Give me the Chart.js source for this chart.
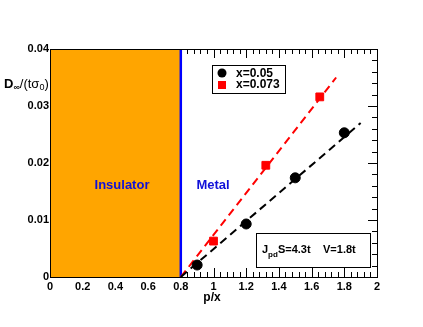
<!DOCTYPE html>
<html>
<head>
<meta charset="utf-8">
<script src="https://cdn.jsdelivr.net/npm/chart.js@4"></script>
<style>
  html, body { margin: 0; padding: 0; background: #fff; }
  #wrap { width: 423px; height: 327px; }
</style>
</head>
<body>
<div id="wrap"><canvas id="c" width="423" height="327"></canvas></div>
<script>
// data
const xBlack = [0.9, 1.2, 1.5, 1.8];
const yBlack = [0.0021, 0.0093, 0.0174, 0.0253];
const xRed = [1.0, 1.32, 1.65];
const yRed = [0.0063, 0.0196, 0.0316];
// dashed fit lines (start / end)
const fitBlackX = [0.8, 1.9];
const fitBlackY = [0, 0.027];
const fitRedX = [0.8, 1.75];
const fitRedY = [0, 0.035];
// insulator / metal boundary
const boundary = 0.8;
const xTicks = [0, 0.2, 0.4, 0.6, 0.8, 1, 1.2, 1.4, 1.6, 1.8, 2];
const yTicks = [0, 0.01, 0.02, 0.03, 0.04];
const legendLabels = ['x=0.05', 'x=0.073'];

const FONT = 'bold 11px "Liberation Sans", Arial, sans-serif';
const BLUE = '#1010d8';

function pts(xs, ys) {
  return xs.map((x, i) => ({ x: x, y: ys[i] }));
}

// ROOT-like inward ticks on all four sides
const frameTicks = {
  id: 'frameTicks',
  beforeDatasetsDraw(chart) {
    const { ctx, chartArea: a, scales: { x, y } } = chart;
    ctx.save();
    ctx.strokeStyle = '#000';
    ctx.lineWidth = 1;
    ctx.beginPath();
    for (let i = 0; i <= 50; i++) {
      const v = i * 0.04;
      const px = Math.round(x.getPixelForValue(v)) + 0.5;
      const len = i % 5 === 0 ? 9 : 5;
      ctx.moveTo(px, a.bottom); ctx.lineTo(px, a.bottom - len);
      ctx.moveTo(px, a.top); ctx.lineTo(px, a.top + len);
    }
    for (let i = 0; i <= 20; i++) {
      const v = i * 0.002;
      const py = Math.round(y.getPixelForValue(v)) + 0.5;
      const len = i % 5 === 0 ? 9 : 5;
      ctx.moveTo(a.left, py); ctx.lineTo(a.left + len, py);
      ctx.moveTo(a.right, py); ctx.lineTo(a.right - len, py);
    }
    ctx.stroke();
    ctx.restore();
  },
  afterDraw(chart) {
    const { ctx, chartArea: a, scales: { x, y } } = chart;
    ctx.save();
    // frame
    ctx.strokeStyle = '#000';
    ctx.lineWidth = 1;
    ctx.strokeRect(a.left + 0.5, a.top + 0.5, a.right - a.left, a.bottom - a.top);

    // tick labels
    ctx.fillStyle = '#000';
    ctx.font = FONT;
    ctx.textAlign = 'center';
    ctx.textBaseline = 'top';
    xTicks.forEach(v => ctx.fillText(String(v), x.getPixelForValue(v), a.bottom + 4));
    ctx.textAlign = 'right';
    ctx.textBaseline = 'middle';
    yTicks.forEach(v => ctx.fillText(String(v), a.left - 1, y.getPixelForValue(v)));

    // axis titles
    ctx.font = 'bold 12px "Liberation Sans", Arial, sans-serif';
    ctx.textAlign = 'center';
    ctx.textBaseline = 'middle';
    ctx.fillText('p/x', 212, 298);

    // y title D∞/(tσ0) with subscripts
    let tx = 4;
    const ty = 84;
    ctx.textAlign = 'left';
    ctx.font = 'bold 13px "Liberation Sans", Arial, sans-serif';
    ctx.fillText('D', tx, ty); tx += ctx.measureText('D').width;
    ctx.font = 'bold 9px "Liberation Sans", Arial, sans-serif';
    ctx.fillText('\u221E', tx, ty + 4); tx += ctx.measureText('\u221E').width;
    ctx.font = '13px "Liberation Sans", Arial, sans-serif';
    ctx.fillText('/(t\u03C3', tx, ty); tx += ctx.measureText('/(t\u03C3').width;
    ctx.font = '9px "Liberation Sans", Arial, sans-serif';
    ctx.fillText('0', tx, ty + 4); tx += ctx.measureText('0').width;
    ctx.font = '13px "Liberation Sans", Arial, sans-serif';
    ctx.fillText(')', tx, ty);

    // region labels
    ctx.fillStyle = BLUE;
    ctx.font = 'bold 13px "Liberation Sans", Arial, sans-serif';
    ctx.textAlign = 'center';
    ctx.fillText('Insulator', 122, 185);
    ctx.fillText('Metal', 213, 185);

    // legend box
    ctx.fillStyle = '#fff';
    ctx.fillRect(212, 65, 73, 28);
    ctx.strokeStyle = '#000';
    ctx.strokeRect(212.5, 65.5, 73, 28);
    ctx.fillStyle = '#000';
    ctx.beginPath();
    ctx.arc(222, 73, 4.5, 0, Math.PI * 2);
    ctx.fill();
    ctx.fillStyle = '#f00';
    ctx.fillRect(218, 81, 8, 8);
    ctx.fillStyle = '#000';
    ctx.font = 'bold 12px "Liberation Sans", Arial, sans-serif';
    ctx.textAlign = 'left';
    ctx.fillText(legendLabels[0], 236, 74);
    ctx.fillText(legendLabels[1], 236, 85);

    // parameter box
    ctx.fillStyle = '#fff';
    ctx.fillRect(256, 233, 114, 34);
    ctx.strokeStyle = '#000';
    ctx.strokeRect(256.5, 233.5, 114, 34);
    ctx.fillStyle = '#000';
    let px = 262;
    const py = 250;
    ctx.font = 'bold 11px "Liberation Sans", Arial, sans-serif';
    ctx.fillText('J', px, py); px += ctx.measureText('J').width;
    ctx.font = 'bold 8px "Liberation Sans", Arial, sans-serif';
    ctx.fillText('pd', px, py + 5); px += ctx.measureText('pd').width;
    ctx.font = 'bold 11px "Liberation Sans", Arial, sans-serif';
    ctx.fillText('S=4.3t', px, py);
    ctx.fillText('V=1.8t', 323, py);
    ctx.restore();
  }
};

const ctx = document.getElementById('c').getContext('2d');
new Chart(ctx, {
  type: 'scatter',
  data: {
    datasets: [
      {
        // insulator region
        type: 'line',
        order: 10,
        data: [{ x: 0, y: 0.04 }, { x: boundary, y: 0.04 }],
        backgroundColor: '#ffa500',
        borderWidth: 0,
        pointRadius: 0,
        fill: 'origin'
      },
      {
        type: 'line',
        order: 9,
        data: [{ x: boundary, y: 0 }, { x: boundary, y: 0.04 }],
        borderColor: '#0000ff',
        borderWidth: 2.5,
        pointRadius: 0,
        fill: false
      },
      {
        type: 'line',
        order: 5,
        data: pts(fitRedX, fitRedY),
        borderColor: '#ff0000',
        borderWidth: 2,
        borderDash: [8, 5],
        pointRadius: 0,
        fill: false
      },
      {
        type: 'line',
        order: 4,
        data: pts(fitBlackX, fitBlackY),
        borderColor: '#000',
        borderWidth: 2,
        borderDash: [8, 5],
        pointRadius: 0,
        fill: false
      },
      {
        order: 2,
        data: pts(xBlack, yBlack),
        backgroundColor: '#000',
        borderColor: '#000',
        pointStyle: 'circle',
        pointRadius: 5
      },
      {
        order: 1,
        data: pts(xRed, yRed),
        backgroundColor: '#f00',
        borderColor: '#f00',
        pointStyle: 'rect',
        pointRadius: 5.5
      }
    ]
  },
  options: {
    responsive: false,
    animation: false,
    events: [],
    layout: { padding: { top: 49, right: 46, left: 0, bottom: 0 } },
    plugins: { legend: { display: false }, tooltip: { enabled: false } },
    scales: {
      x: {
        type: 'linear',
        min: 0,
        max: 2,
        grid: { display: false, drawTicks: false },
        border: { display: false },
        ticks: { display: false },
        afterFit: s => { s.height = 50; }
      },
      y: {
        type: 'linear',
        min: 0,
        max: 0.04,
        grid: { display: false, drawTicks: false },
        border: { display: false },
        ticks: { display: false },
        afterFit: s => { s.width = 50; }
      }
    }
  },
  plugins: [frameTicks]
});
</script>
</body>
</html>
